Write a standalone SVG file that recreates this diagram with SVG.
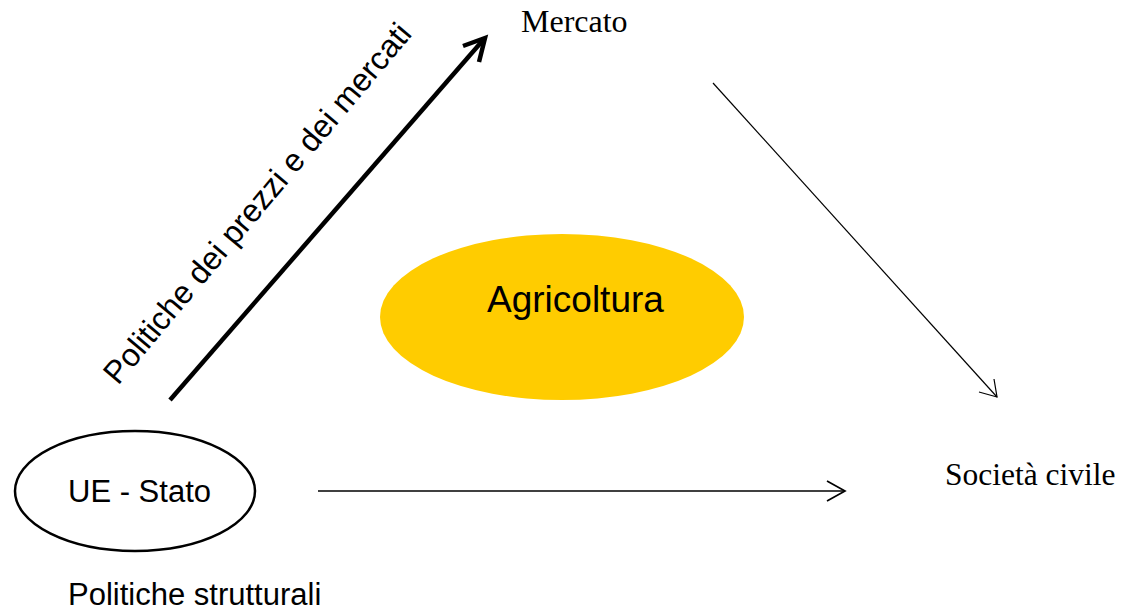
<svg xmlns="http://www.w3.org/2000/svg" width="1121" height="612" viewBox="0 0 1121 612">
<style>
.sans{font-family:"Liberation Sans",Arial,sans-serif;fill:#000}
.serif{font-family:"Liberation Serif","Times New Roman",serif;fill:#000}
.conn{fill:none;stroke:#000;stroke-linecap:butt;stroke-linejoin:miter}
</style>
<rect width="1121" height="612" fill="#fff"/>
<g id="agricoltura">
<ellipse cx="562" cy="317" rx="182" ry="83" fill="#FFCC00"/>
<text class="sans" x="487" y="312" font-size="37">Agricoltura</text>
</g>
<g id="ue-stato">
<ellipse cx="135" cy="491" rx="120" ry="60" fill="#fff" stroke="#000" stroke-width="2.5"/>
<text class="sans" x="68" y="502" font-size="31">UE - Stato</text>
</g>
<g id="mercato">
<text class="serif" x="521" y="32" font-size="32">Mercato</text>
</g>
<g id="societa-civile">
<text class="serif" x="945" y="485" font-size="31.5">Società civile</text>
</g>
<g id="label-politiche-prezzi">
<text class="sans" font-size="32" transform="translate(118,386) rotate(-50)">Politiche dei prezzi e dei mercati</text>
</g>
<g id="label-politiche-strutturali">
<text class="sans" x="68" y="605" font-size="31">Politiche strutturali</text>
</g>
<g id="connectors">
<path class="conn" stroke-width="4.5" d="M170 400 L484 39"/>
<path class="conn" stroke-width="4.5" stroke-linecap="round" d="M463 46 L485 38 L479 62"/>
<path class="conn" stroke-width="1.2" d="M713 83 L997 397"/>
<path class="conn" stroke-width="1.2" d="M979 392 L997 397 L994 379"/>
<path class="conn" stroke-width="1.7" d="M318 491 L845 491"/>
<path class="conn" stroke-width="1.7" d="M827 481 L845 491 L827 501"/>
</g>
</svg>
